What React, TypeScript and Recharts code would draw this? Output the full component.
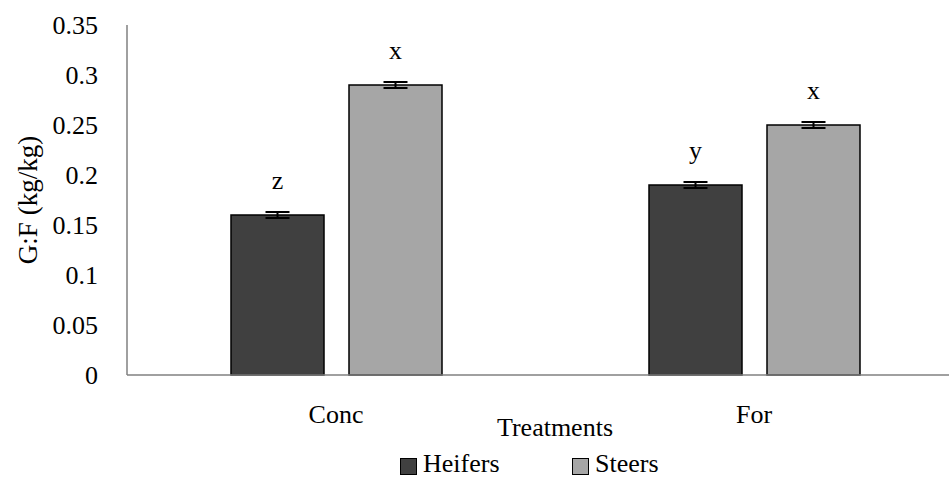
import React from "react"
import {
  BarChart,
  Bar,
  XAxis,
  YAxis,
  Legend,
  LabelList,
  ErrorBar,
  Label,
} from "recharts"

const categories = ["Conc", "For"]
const heifers = [0.16, 0.19]
const steers = [0.29, 0.25]
const heifersErr = [0.003, 0.003]
const steersErr = [0.003, 0.003]
const heifersLetters = ["z", "y"]
const steersLetters = ["x", "x"]
const yTicks = [0, 0.05, 0.1, 0.15, 0.2, 0.25, 0.3, 0.35]

const series = [
  { key: "heifers", label: "Heifers", color: "#404040" },
  { key: "steers", label: "Steers", color: "#A6A6A6" },
]

const data = categories.map((c, i) => ({
  name: c,
  heifers: heifers[i],
  steers: steers[i],
  heifersErr: heifersErr[i],
  steersErr: steersErr[i],
  heifersLetter: heifersLetters[i],
  steersLetter: steersLetters[i],
}))

const FONT = "Liberation Serif, serif"

const XTick = ({ x, y, payload }: any) => (
  <text x={x} y={y} dy={48} textAnchor="middle" fontSize={26} fontFamily={FONT} fill="#000">
    {payload.value}
  </text>
)

// legend drawn as small svg so it uses the same text rendering as the axes
const LegendContent = () => (
  <svg width={949} height={30} style={{ display: "block" }}>
    {series.map((s, i) => {
      const x0 = 400 + i * 172
      return (
        <g key={s.key}>
          <rect x={x0 + 0.5} y={9.5} width={16} height={16} fill={s.color} stroke="#000" strokeWidth={1} />
          <text x={x0 + 23} y={23} fontFamily={FONT} fontSize={26} fill="#000">
            {s.label}
          </text>
        </g>
      )
    })}
  </svg>
)

export default function App() {
  return (
    <div style={{ position: "absolute", left: 0, top: 0, width: 949, height: 479, overflow: "hidden", background: "#fff" }}>
      <BarChart
        width={980}
        height={479}
        data={data}
        margin={{ top: 25, right: 17, left: 0, bottom: 0 }}
        barGap={25}
        barSize={93}
      >
        <XAxis
          dataKey="name"
          height={74}
          tickLine={false}
          tickSize={0}
          tickMargin={0}
          stroke="#808080"
          strokeWidth={1.5}
          tick={<XTick />}
        >
          <Label
            value="Treatments"
            position="insideBottom"
            offset={13}
            dx={10}
            style={{ fontFamily: FONT, fontSize: 26, fill: "#000" }}
          />
        </XAxis>
        <YAxis
          width={127}
          domain={[0, 0.35]}
          ticks={yTicks}
          tickLine={false}
          tickSize={0}
          tickMargin={29}
          stroke="#808080"
          strokeWidth={1.5}
          tick={{ fontFamily: FONT, fontSize: 26, fill: "#000" }}
        >
          <Label
            value="G:F (kg/kg)"
            angle={-90}
            position="insideLeft"
            offset={27}
            style={{ fontFamily: FONT, fontSize: 27, fill: "#000", textAnchor: "middle" }}
          />
        </YAxis>
        <Legend verticalAlign="bottom" height={30} wrapperStyle={{ left: 0, width: 949 }} content={<LegendContent />} />
        {series.map((s) => (
          <Bar
            key={s.key}
            dataKey={s.key}
            name={s.label}
            fill={s.color}
            stroke="#000"
            strokeWidth={1.5}
            isAnimationActive={false}
          >
            <ErrorBar dataKey={`${s.key}Err`} width={12} stroke="#000" strokeWidth={2} />
            <LabelList
              dataKey={`${s.key}Letter`}
              position="top"
              offset={26}
              style={{ fontFamily: FONT, fontSize: 26, fill: "#000" }}
            />
          </Bar>
        ))}
      </BarChart>
    </div>
  )
}
